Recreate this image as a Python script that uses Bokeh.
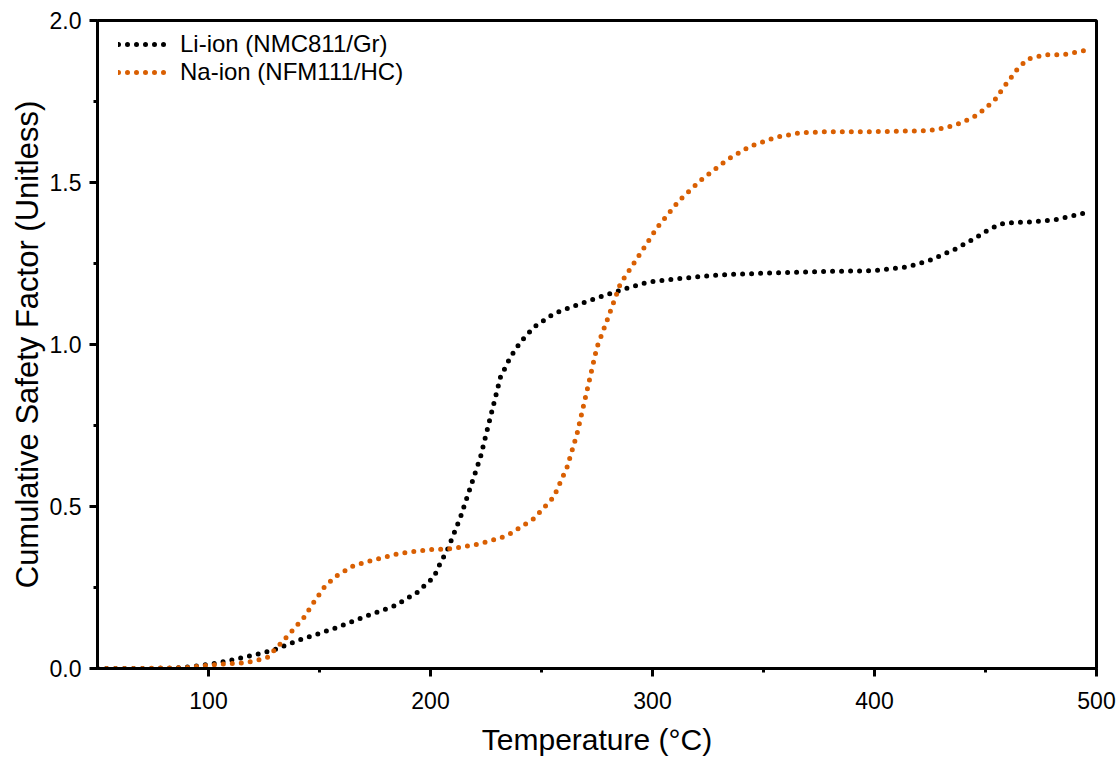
from bokeh.plotting import figure
from bokeh.models import Range1d, FixedTicker, PrintfTickFormatter, Legend, LegendItem
from bokeh.embed import file_html
from bokeh.resources import INLINE

# Data
li_temp = [50, 70, 85, 95, 104, 115, 129, 141, 156, 172, 184, 194, 201.5, 204.6, 207.5,
           213.5, 218, 222.5, 225.5, 228.5, 231.5, 236, 240.5, 246.5, 255.5, 267.5, 282.5,
           297.5, 311, 330, 350, 375, 400, 415, 425, 436.5, 444.7, 452, 458, 465, 470,
           481.5, 491, 497]
li_csf = [0, 0, 0.001, 0.008, 0.017, 0.033, 0.056, 0.088, 0.122, 0.164, 0.194, 0.235, 0.282,
          0.328, 0.364, 0.467, 0.56, 0.652, 0.735, 0.817, 0.899, 0.961, 1.007, 1.053, 1.095,
          1.126, 1.161, 1.192, 1.203, 1.215, 1.22, 1.225, 1.228, 1.24, 1.26, 1.295, 1.326,
          1.357, 1.374, 1.377, 1.378, 1.385, 1.400, 1.41]

na_temp = [50, 70, 90, 100, 108, 115, 120.4, 126.4, 132.4, 138.4, 143, 147.5, 152.7, 158,
           165.5, 174.5, 186.5, 200, 210, 222.5, 234.5, 246.5, 255.5, 261.5, 266, 270.5, 275,
           279.5, 285.5, 293, 302, 312, 321.6, 333.6, 344, 356, 367, 380, 400, 424.5, 432,
           438.7, 444.7, 450, 454.5, 458.2, 461.3, 465, 469.5, 477, 485, 496]
na_csf = [0, 0, 0.003, 0.01, 0.015, 0.017, 0.023, 0.033, 0.076, 0.122, 0.158, 0.205, 0.256,
          0.287, 0.318, 0.335, 0.356, 0.367, 0.37, 0.385, 0.41, 0.462, 0.529, 0.621, 0.724,
          0.858, 0.992, 1.074, 1.187, 1.265, 1.36, 1.444, 1.506, 1.570, 1.612, 1.640, 1.654,
          1.657, 1.657, 1.660, 1.669, 1.683, 1.702, 1.729, 1.758, 1.794, 1.822, 1.856, 1.882,
          1.894, 1.894, 1.909]

x_ticks = [100, 200, 300, 400, 500]
x_minor = [150, 250, 350, 450]
y_ticks = [0.0, 0.5, 1.0, 1.5, 2.0]
y_minor = [0.25, 0.75, 1.25, 1.75]

FONT = "Liberation Sans"
ORANGE = "#D95F02"

p = figure(width=1117, height=758, output_backend="svg", toolbar_location=None,
           x_range=Range1d(50, 500), y_range=Range1d(0, 2.0),
           min_border_left=97, min_border_right=21, min_border_top=20, min_border_bottom=90)

p.xgrid.visible = False
p.ygrid.visible = False
p.outline_line_color = "black"
p.outline_line_width = 3
p.background_fill_color = "white"
p.border_fill_color = "white"

r_li = p.line(li_temp, li_csf, line_color="black", line_width=5, line_dash="0 9", line_cap="round")
r_na = p.line(na_temp, na_csf, line_color=ORANGE, line_width=5, line_dash="0 9", line_cap="round")

p.xaxis.ticker = FixedTicker(ticks=x_ticks, minor_ticks=x_minor)
p.yaxis.ticker = FixedTicker(ticks=y_ticks, minor_ticks=y_minor)
p.yaxis.formatter = PrintfTickFormatter(format="%.1f")

for ax in (p.xaxis[0], p.yaxis[0]):
    ax.axis_line_width = 3
    ax.axis_line_color = "black"
    ax.major_tick_line_width = 3
    ax.minor_tick_line_width = 3
    ax.major_tick_out = 8
    ax.major_tick_in = 0
    ax.minor_tick_out = 4
    ax.minor_tick_in = 0
    ax.major_label_text_font = FONT
    ax.major_label_text_font_size = "23px"
    ax.major_label_text_color = "black"
    ax.axis_label_text_font = FONT
    ax.axis_label_text_font_size = "30px"
    ax.axis_label_text_font_style = "normal"
    ax.axis_label_text_color = "black"

p.yaxis.axis_label_text_font_size = "31px"
p.xaxis.axis_label = "Temperature (°C)"
p.yaxis.axis_label = "Cumulative Safety Factor (Unitless)"
p.xaxis.major_label_standoff = 15
p.yaxis.major_label_standoff = 8
p.xaxis.axis_label_standoff = 11
p.yaxis.axis_label_standoff = 2

legend = Legend(items=[LegendItem(label="Li-ion (NMC811/Gr)", renderers=[r_li]),
                       LegendItem(label="Na-ion (NFM111/HC)", renderers=[r_na])],
                location=(21, 582))
legend.label_text_font = FONT
legend.label_text_font_size = "24px"
legend.label_text_color = "black"
legend.border_line_color = None
legend.background_fill_alpha = 0
legend.glyph_width = 50
legend.glyph_height = 28
legend.label_height = 28
legend.label_standoff = 12
legend.spacing = 0
legend.padding = 0
legend.margin = 0
p.add_layout(legend)

open("out.html", "w").write(file_html(p, INLINE))
